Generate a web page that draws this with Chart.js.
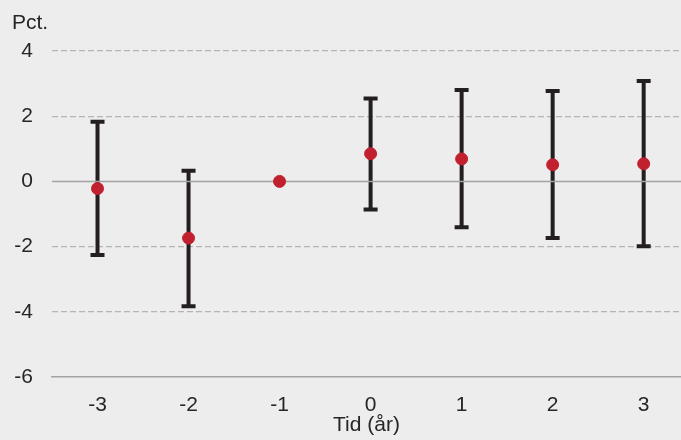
<!DOCTYPE html>
<html>
<head>
<meta charset="utf-8">
<script src="https://cdn.jsdelivr.net/npm/chart.js@4"></script>
<style>
  html, body { margin: 0; padding: 0; background: #ededed; }
  #wrap { width: 681px; height: 440px; }
</style>
</head>
<body>
<div id="wrap"><canvas id="chart" width="681" height="440"></canvas></div>
<script>
// Years relative to event
const years = [-3, -2, -1, 0, 1, 2, 3];
// Point estimates (pct.)
const estimates = [-0.22, -1.74, 0, 0.85, 0.69, 0.51, 0.54];
// Confidence interval bounds
const upper = [1.83, 0.33, null, 2.54, 2.80, 2.77, 3.08];
const lower = [-2.26, -3.83, null, -0.86, -1.41, -1.74, -1.99];
// Y axis ticks
const yTicks = [-6, -4, -2, 0, 2, 4];

const FONT = 'Liberation Sans, Arial, sans-serif';
const TEXT = '#262626';

// Draws the vertical CI bars with caps, behind the points
const errorBars = {
    id: 'errorBars',
    beforeDatasetsDraw(chart) {
        const ctx = chart.ctx;
        const xs = chart.scales.x;
        const ys = chart.scales.y;
        ctx.save();
        ctx.strokeStyle = '#231f20';
        ctx.lineWidth = 4;
        ctx.lineCap = 'butt';
        years.forEach((yr, i) => {
            if (upper[i] === null) return;
            const px = xs.getPixelForValue(yr);
            const top = ys.getPixelForValue(upper[i]);
            const bot = ys.getPixelForValue(lower[i]);
            ctx.beginPath();
            ctx.moveTo(px, top);
            ctx.lineTo(px, bot);
            ctx.moveTo(px - 7, top);
            ctx.lineTo(px + 7, top);
            ctx.moveTo(px - 7, bot);
            ctx.lineTo(px + 7, bot);
            ctx.stroke();
        });
        ctx.restore();
    }
};

// Solid zero line and 'Pct.' label
const extras = {
    id: 'extras',
    beforeDatasetsDraw(chart) {
        const ctx = chart.ctx;
        const area = chart.chartArea;
        const y0 = chart.scales.y.getPixelForValue(0);
        ctx.save();
        ctx.strokeStyle = '#a3a3a3';
        ctx.lineWidth = 1.5;
        ctx.beginPath();
        ctx.moveTo(area.left, y0);
        ctx.lineTo(area.right, y0);
        ctx.stroke();
        ctx.restore();
    },
    afterDraw(chart) {
        const ctx = chart.ctx;
        ctx.save();
        ctx.fillStyle = TEXT;
        ctx.font = '21px ' + FONT;
        ctx.textBaseline = 'alphabetic';
        ctx.fillText('Pct.', 12, 29);
        ctx.restore();
    }
};

new Chart(document.getElementById('chart'), {
    type: 'scatter',
    data: {
        datasets: [{
            data: years.map((yr, i) => ({ x: yr, y: estimates[i] })),
            backgroundColor: '#c1202f',
            borderColor: '#c1202f',
            pointRadius: 6,
            pointHoverRadius: 6
        }]
    },
    options: {
        responsive: false,
        animation: false,
        layout: { autoPadding: false, padding: { left: 0, right: 0, top: 51, bottom: 0 } },
        plugins: {
            legend: { display: false },
            tooltip: { enabled: false }
        },
        scales: {
            x: {
                type: 'linear',
                min: -3.5,
                max: 3.41,
                afterBuildTicks(scale) {
                    scale.ticks = years.map(v => ({ value: v }));
                },
                afterFit(scale) {
                    scale.height = 63;
                    scale.paddingLeft = 0;
                    scale.paddingRight = 0;
                },
                grid: { display: false, drawTicks: false },
                border: { display: true, color: '#a3a3a3', width: 1.5 },
                ticks: {
                    color: TEXT,
                    font: { family: FONT, size: 21 },
                    padding: 16
                },
                title: {
                    display: true,
                    text: 'Tid (år)',
                    color: TEXT,
                    font: { family: FONT, size: 21 },
                    padding: { top: 0, bottom: 2 }
                }
            },
            y: {
                min: -6,
                max: 4,
                afterBuildTicks(scale) {
                    scale.ticks = yTicks.map(v => ({ value: v }));
                },
                afterFit(scale) {
                    scale.width = 52;
                },
                grid: {
                    drawTicks: false,
                    color: ctx => (ctx.tick && (ctx.tick.value === 0 || ctx.tick.value === -6)) ? 'rgba(0,0,0,0)' : '#b5b5b5',
                    lineWidth: 1.2
                },
                border: { display: false, dash: [6, 3] },
                ticks: {
                    color: TEXT,
                    font: { family: FONT, size: 21 },
                    padding: 19
                }
            }
        }
    },
    plugins: [errorBars, extras]
});
</script>
</body>
</html>
